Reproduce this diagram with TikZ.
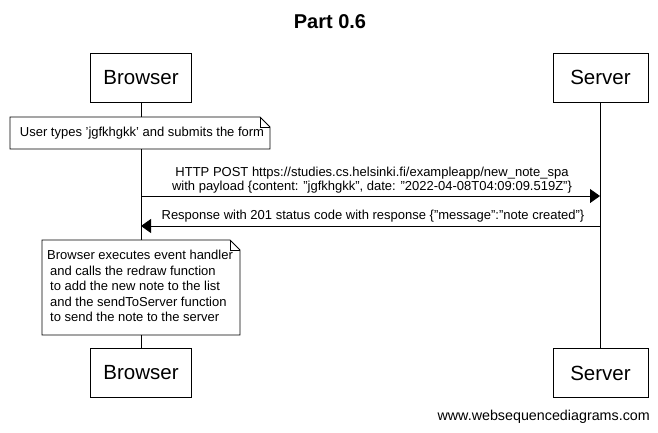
\documentclass[tikz,border=0pt]{standalone}
\usepackage{fontspec}
\setmainfont{Liberation Sans}
\usetikzlibrary{arrows.meta}
\begin{document}
\begin{tikzpicture}[x=1pt,y=-1pt,
  actor/.style={draw,line width=0.8pt,minimum width=101pt,minimum height=49pt,inner sep=0pt,font=\fontsize{20.5}{24}\selectfont},
  notetext/.style={inner sep=0pt,font=\fontsize{13}{15.5}\selectfont},
  msg/.style={line width=0.8pt,-{Triangle[length=10pt,width=14pt]}},
  life/.style={line width=0.8pt},
  msgtext/.style={inner sep=0pt,font=\fontsize{13}{14.5}\selectfont,align=center}]
\useasboundingbox (0,0) rectangle (658,432);
\node[font=\bfseries\fontsize{20}{22}\selectfont] (title) at (330,22) {Part 0.6};
\node[actor] (b1) at (141,77.5) {Browser};
\node[actor,minimum width=95pt] (s1) at (600.5,77.5) {Server};
\node[actor] (b2) at (141,373) {Browser};
\node[actor,minimum width=95pt] (s2) at (600.5,373) {Server};
\draw[life] (b1.south) -- (b2.north);
\draw[life] (s1.south) -- (s2.north);
% note 1
\coordinate (n1a) at (10,117);
\coordinate (n1b) at (270,149);
\fill[white] (n1a) rectangle (n1b);
\draw[line width=0.8pt] (n1a) -- (260,117) -- (270,127) -- (n1b) -- (10,149) -- cycle;
\draw[line width=0.6pt] (260,117) -- (260,127) -- (270,127);
\node[notetext] (t1) at (142,133) {User types 'jgfkhgkk' and submits the form};
% messages
\coordinate (m1s) at (141,196);
\coordinate (m1e) at (600,196);
\draw[msg] (m1s) -- (m1e);
\node[msgtext] (l1) at (372,180) {HTTP POST https://studies.cs.helsinki.fi/exampleapp/new\_note\_spa\\ with payload \{content: "jgfkhgkk", date: "2022-04-08T04:09:09.519Z"\}};
\coordinate (m2s) at (600,226);
\coordinate (m2e) at (141,226);
\draw[msg] (m2s) -- (m2e);
\node[msgtext] (l2) at (373,216.5) {Response with 201 status code with response \{"message":"note created"\}};
% note 2
\coordinate (n2a) at (42,240);
\coordinate (n2b) at (240,335);
\fill[white] (n2a) rectangle (n2b);
\draw[line width=0.8pt] (n2a) -- (230,240) -- (240,250) -- (n2b) -- (42,335) -- cycle;
\draw[line width=0.6pt] (230,240) -- (230,250) -- (240,250);
\node[notetext,anchor=north west,align=left] (t2) at (47,250) {Browser executes event handler\\
\hspace*{3pt}and calls the redraw function\\
\hspace*{3pt}to add the new note to the list\\
\hspace*{3pt}and the sendToServer function\\
\hspace*{3pt}to send the note to the server};
\node[anchor=east,inner sep=0pt,font=\fontsize{14.3}{16}\selectfont] (wm) at (650,417) {www.websequencediagrams.com};
\end{tikzpicture}
\end{document}
